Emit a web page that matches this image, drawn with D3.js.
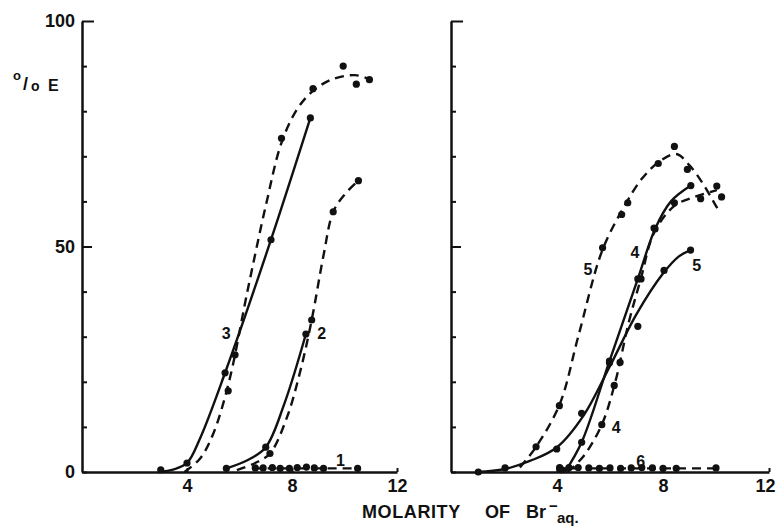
<!DOCTYPE html>
<html>
<head>
<meta charset="utf-8">
<script src="https://cdn.jsdelivr.net/npm/d3@7"></script>
<style>
  body { margin: 0; background: #fff; }
  svg text { font-family: "Liberation Sans", "DejaVu Sans", sans-serif; font-weight: bold; fill: #111; }
</style>
</head>
<body>
<div id="chart"></div>
<script>
// values (x = molarity of Br-, y = %E)
var yTicks = [0, 10, 20, 30, 40, 50, 60, 70, 80, 90, 100],
    yLabels = [0, 50, 100],
    xTicks = [4, 8, 12];

// left panel
var s3solidDots = [[3.0, 0.5], [4.0, 2], [5.45, 22], [7.2, 51.5], [8.7, 78.5]],
    s3solidFit = [[2.9, 0], [3.5, 0.6], [4.0, 2], [4.5, 7.5], [5.45, 22], [7.2, 51.5], [8.7, 78.5]],
    s3dashDots = [[5.57, 18], [5.83, 26], [7.6, 74], [8.8, 85], [9.95, 90], [10.45, 86], [10.95, 87]],
    s3dashFit = [[3.9, 0], [4.5, 3], [5.0, 8.5], [5.6, 20], [6.3, 40], [7.0, 59], [7.6, 73], [8.2, 80.5], [8.8, 84.5], [9.5, 87], [10.4, 88], [11.0, 87]],
    s2solidDots = [[5.5, 0.8], [7.0, 5.5], [8.53, 30.6]],
    s2solidFit = [[5.5, 0.8], [6.3, 2.6], [7.0, 5.5], [7.7, 15], [8.53, 30.6]],
    s2dashDots = [[7.16, 4.1], [8.75, 33.7], [9.57, 57.7], [10.53, 64.6]],
    s2dashFit = [[5.9, 0.4], [6.6, 2], [7.16, 4.1], [7.8, 12], [8.3, 22], [8.75, 33.7], [9.2, 48], [9.57, 57.7], [10.0, 61.5], [10.53, 64.6]],
    s1Dots = [[6.6, 0.9], [6.9, 0.9], [7.25, 1], [7.55, 0.8], [7.9, 0.8], [8.2, 1], [8.55, 1.1], [8.85, 0.9], [9.2, 0.8], [10.5, 0.8]],
    s1Fit = [[6.5, 0.8], [10.6, 0.8]];

// right panel
var s5dashDots = [[3.21, 5.6], [4.09, 14.7], [5.72, 49.7], [6.44, 57.1], [6.67, 59.7], [7.82, 68.4], [8.43, 72.2], [8.92, 67.1], [10.21, 61.0]],
    s5dashFit = [[2.6, 1], [3.2, 5.5], [4.1, 15], [4.8, 30], [5.7, 49], [6.5, 58.5], [7.2, 65], [7.9, 69], [8.5, 70.5], [9.0, 68], [9.5, 64], [9.9, 60], [10.15, 57.5]],
    s5solidDots = [[1.03, 0], [2.04, 0.9], [3.99, 5.1], [4.93, 13], [5.98, 24.2], [7.05, 32.3], [8.04, 44.7], [9.04, 49.2]],
    s5solidFit = [[1.0, 0], [2.0, 0.6], [3.0, 2.5], [4.0, 5.5], [5.0, 12.5], [6.0, 23.5], [7.0, 35], [8.0, 44], [8.6, 47.8], [9.04, 49.2]],
    s4solidDots = [[4.1, 1], [4.93, 6.6], [5.98, 24.6], [7.05, 42.8], [7.7, 53.9], [9.05, 63.5]],
    s4solidFit = [[4.3, 0], [4.93, 6.6], [5.98, 24.6], [7.05, 42.8], [7.7, 53.9], [8.3, 60], [9.05, 63.5]],
    s4dashDots = [[4.18, 0.5], [5.69, 10.5], [6.16, 19.2], [6.38, 24.3], [7.17, 42.8], [7.66, 54.1], [8.43, 59.7], [9.42, 60.6], [10.03, 63.4]],
    s4dashFit = [[4.4, 0], [5.0, 3.5], [5.69, 10.5], [6.2, 20], [6.7, 33], [7.17, 43], [7.66, 53], [8.43, 59], [9.2, 61], [10.03, 62.5]],
    s6Dots = [[4.1, 0.8], [4.45, 1], [4.8, 1], [5.2, 0.9], [5.6, 0.8], [6.0, 0.9], [6.4, 0.8], [6.8, 0.9], [7.2, 1], [7.6, 0.9], [8.0, 0.8], [8.5, 0.8], [10.0, 0.9]],
    s6Fit = [[4.0, 0.8], [10.0, 0.8]];

// curve numbers: [panel, x, y, text]
var curveLabels = [[0, 5.49, 30.8, "3"], [0, 9.13, 30.8, "2"], [0, 9.85, 2.6, "1"],
                   [1, 5.17, 45, "5"], [1, 9.27, 45.8, "5"], [1, 6.94, 48.7, "4"], [1, 6.23, 9.9, "4"], [1, 7.16, 2.4, "6"]];

var width = 776, height = 528;

var svg = d3.select("#chart").append("svg")
    .attr("width", width)
    .attr("height", height);

svg.append("rect").attr("width", width).attr("height", height).attr("fill", "#fff");

var y = d3.scaleLinear().domain([0, 100]).range([472, 21]);

var panels = [
    { x: d3.scaleLinear().domain([0, 12]).range([82, 397]), labels: true,
      series: [
        { dots: s3solidDots, fit: s3solidFit, dash: false },
        { dots: s3dashDots, fit: s3dashFit, dash: true },
        { dots: s2solidDots, fit: s2solidFit, dash: false },
        { dots: s2dashDots, fit: s2dashFit, dash: true },
        { dots: s1Dots, fit: s1Fit, dash: true }
      ] },
    { x: d3.scaleLinear().domain([0, 12]).range([451, 769]), labels: false,
      series: [
        { dots: s5dashDots, fit: s5dashFit, dash: true },
        { dots: s5solidDots, fit: s5solidFit, dash: false },
        { dots: s4solidDots, fit: s4solidFit, dash: false },
        { dots: s4dashDots, fit: s4dashFit, dash: true },
        { dots: s6Dots, fit: s6Fit, dash: true }
      ] }
];

panels.forEach(function(p, pi) {
    var g = svg.append("g");

    // y axis, ticks pointing inward
    var yAxis = d3.axisLeft(y)
        .tickValues(yTicks)
        .tickSizeInner(-5)
        .tickSizeOuter(0)
        .tickPadding(7)
        .tickFormat(function(d) { return (p.labels && yLabels.indexOf(d) >= 0) ? d : ""; });

    var ya = g.append("g")
        .attr("transform", "translate(" + p.x(0) + ",0)")
        .call(yAxis);
    ya.select(".domain").attr("stroke", "#111").attr("stroke-width", 2.5);
    ya.selectAll(".tick line")
        .attr("stroke", "#111")
        .attr("stroke-width", 2)
        .attr("x2", function(d) { return d === 100 ? 12 : (d === 50 ? 10 : 5); });
    ya.selectAll(".tick text").attr("font-size", 18).attr("font-family", null);

    // x axis
    var xAxis = d3.axisBottom(p.x)
        .tickValues(xTicks)
        .tickSizeInner(-4)
        .tickSizeOuter(0)
        .tickPadding(7);
    var xa = g.append("g")
        .attr("transform", "translate(0," + y(0) + ")")
        .call(xAxis);
    xa.select(".domain").attr("stroke", "#111").attr("stroke-width", 2.5);
    xa.selectAll(".tick line").attr("stroke", "#111").attr("stroke-width", 2);
    xa.selectAll(".tick text").attr("font-size", 18).attr("font-family", null)
        .attr("dx", function(d) { return (pi === 1 && d === 12) ? -4 : 0; });

    var line = d3.line()
        .x(function(d) { return p.x(d[0]); })
        .y(function(d) { return y(d[1]); })
        .curve(d3.curveCatmullRom.alpha(0.5));

    p.series.forEach(function(s) {
        g.append("path")
            .datum(s.fit)
            .attr("d", line)
            .attr("fill", "none")
            .attr("stroke", "#111")
            .attr("stroke-width", 2.4)
            .attr("stroke-dasharray", s.dash ? "9,6" : null);

        g.selectAll(null)
            .data(s.dots)
            .enter()
            .append("circle")
            .attr("cx", function(d) { return p.x(d[0]); })
            .attr("cy", function(d) { return y(d[1]); })
            .attr("r", 3.6)
            .attr("fill", "#111");
    });

    g.selectAll(null)
        .data(curveLabels.filter(function(d) { return d[0] === pi; }))
        .enter()
        .append("text")
        .attr("x", function(d) { return p.x(d[1]); })
        .attr("y", function(d) { return y(d[2]); })
        .attr("text-anchor", "middle")
        .attr("dominant-baseline", "central")
        .attr("font-size", 16)
        .text(function(d) { return d[3]; });
});

// %E label, drawn as o/o E
svg.append("text").attr("x", 13).attr("y", 80).attr("font-size", 13).text("o");
svg.append("text").attr("x", 23).attr("y", 90).attr("font-size", 18).text("/");
svg.append("text").attr("x", 31).attr("y", 91).attr("font-size", 14).text("o");
svg.append("text").attr("x", 48).attr("y", 91).attr("font-size", 16).text("E");

// x axis title
svg.append("text").attr("x", 362).attr("y", 518).attr("font-size", 18).attr("letter-spacing", 0.6).text("MOLARITY");
svg.append("text").attr("x", 485).attr("y", 518).attr("font-size", 18).text("OF");
svg.append("text").attr("x", 526).attr("y", 518).attr("font-size", 18).text("Br");
svg.append("text").attr("x", 549).attr("y", 511).attr("font-size", 15).text("\u2212");
svg.append("text").attr("x", 557).attr("y", 523).attr("font-size", 15).text("aq.");
</script>
</body>
</html>
